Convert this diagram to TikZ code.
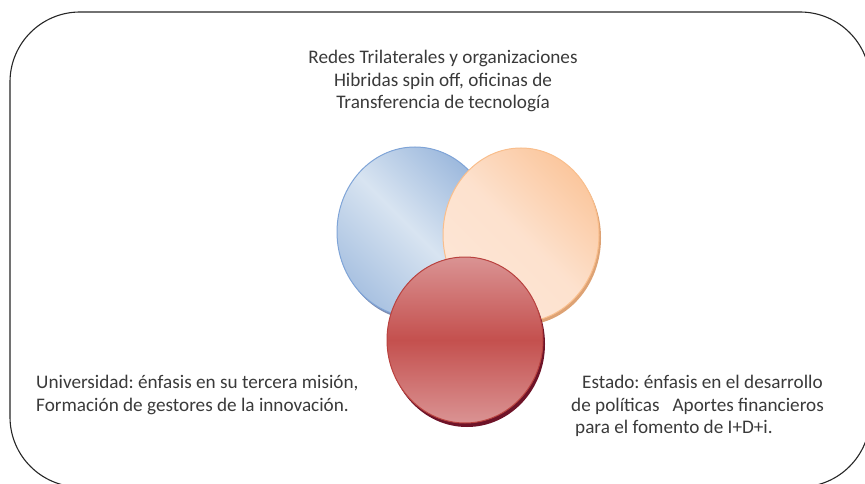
\documentclass[tikz,border=0pt]{standalone}
\usepackage{fontspec}
\setmainfont{Carlito}
\frenchspacing
\definecolor{txt}{HTML}{3A3A3A}
\definecolor{bluedark}{HTML}{9DB9DD}
\definecolor{bluelight}{HTML}{D8E4F1}
\definecolor{blueedge}{HTML}{7FA4D7}
\definecolor{blueshadow}{HTML}{7D8DB3}
\definecolor{orgdark}{HTML}{FBC79E}
\definecolor{orglight}{HTML}{FDE6D6}
\definecolor{orgedge}{HTML}{F9BE8C}
\definecolor{orgshadow}{HTML}{DDA274}
\definecolor{redlight}{HTML}{DA9393}
\definecolor{redmid}{HTML}{C4504E}
\definecolor{rededge}{HTML}{B9423F}
\definecolor{redshadow}{HTML}{6E1328}
\tikzset{
  lbl/.style={font=\fontsize{19.2}{22.8}\selectfont, text=txt, inner sep=0pt},
  frame/.style={draw=black!85, line width=1.1pt, rounded corners=70pt},
}
\begin{document}
\begin{tikzpicture}[x=1pt,y=-1pt]
\useasboundingbox (0,0) rectangle (865,484);
\clip (0,0) rectangle (865,484);
\draw[frame] (10,12) rectangle (870,487);
% blue
\fill[blueshadow] (417,235) ellipse [x radius=78, y radius=85];
\shade[top color=bluedark, bottom color=bluedark!80!bluelight, middle color=bluelight, shading angle=-45]
  (415,232) ellipse [x radius=78, y radius=85];
\draw[blueedge, line width=1pt] (415,232) ellipse [x radius=78, y radius=85];
% orange
\fill[orgshadow] (523,238) ellipse [x radius=78, y radius=87];
\shade[top color=orgdark, bottom color=orglight, middle color=orglight!85!orgdark, shading angle=-45]
  (521,235) ellipse [x radius=78, y radius=87];
\draw[orgedge, line width=1pt] (521,235) ellipse [x radius=78, y radius=87];
% red
\fill[redshadow] (467,344) ellipse [x radius=78, y radius=83];
\shade[top color=redlight, bottom color=redlight, middle color=redmid]
  (465,340) ellipse [x radius=78, y radius=83];
\draw[rededge, line width=1pt] (465,340) ellipse [x radius=78, y radius=83];
% texts
\node[lbl, align=center] (top) at (443,81) {Redes Trilaterales y organizaciones\\Hibridas spin off, oficinas de\\Transferencia de tecnología};
\node[lbl, align=left, anchor=west] (left) at (36,395) {Universidad: énfasis en su tercera misión,\\Formación de gestores de la innovación.};
\node[lbl, align=left, anchor=west] (right) at (571,406) {\hspace*{11pt}Estado: énfasis en el desarrollo\\de políticas\ \ \ Aportes financieros\\\hspace*{4pt}para el fomento de I+D+i.};
\end{tikzpicture}
\end{document}
